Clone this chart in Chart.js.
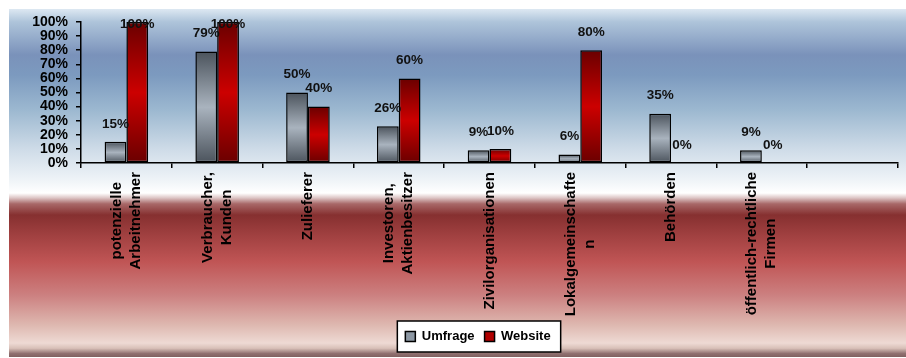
<!DOCTYPE html>
<html>
<head>
<meta charset="utf-8">
<script src="https://cdn.jsdelivr.net/npm/chart.js@4"></script>
<style>
  html, body { margin: 0; padding: 0; background: #fff; }
  #wrap { width: 906px; height: 358px; }
</style>
</head>
<body>
<div id="wrap"><canvas id="chart"></canvas></div>
<script>
// Stakeholder groups: survey answers vs. what the websites address.
const categories = [
  ['potenzielle', 'Arbeitnehmer'],
  ['Verbraucher,', 'Kunden'],
  ['Zulieferer'],
  ['Investoren,', 'Aktienbesitzer'],
  ['Zivilorganisationen'],
  ['Lokalgemeinschafte', 'n'],
  ['Behörden'],
  ['öffentlich-rechtliche', 'Firmen'],
  [''],
];
const umfrage = [15, 79, 50, 26, 9, 6, 35, 9];
const website = [100, 100, 40, 60, 10, 80, 0, 0];
const seriesNames = ['Umfrage', 'Website'];
const yTicks = { min: 0, max: 100, step: 10 };

const FONT = 'Arial, "Liberation Sans", sans-serif';
const GREY = ['#4b535c', '#a9b3be'];
const RED = ['#6a0000', '#cc0000'];

// vertical dark-light-dark gradient over each bar's own height
function barFill(stops) {
  return (c) => {
    if (c.type !== 'data' || c.raw == null) return stops[1];
    const y = c.chart.scales.y;
    if (!y) return stops[1];
    const top = y.getPixelForValue(c.raw), base = y.getPixelForValue(0);
    if (!isFinite(top) || Math.abs(base - top) < 1) return stops[1];
    const g = c.chart.ctx.createLinearGradient(0, top, 0, base);
    g.addColorStop(0, stops[0]);
    g.addColorStop(0.5, stops[1]);
    g.addColorStop(1, stops[0]);
    return g;
  };
}

// backdrop: blue band on top, red band below, plus the white legend frame
const backdrop = {
  id: 'backdrop',
  afterLayout(chart) {
    // legend sits a little right of the canvas centre
    if (chart.legend) chart.legend.left = 58;
  },
  beforeDraw(chart) {
    const { ctx } = chart;
    const y0 = 9, y1 = 357;
    const g = ctx.createLinearGradient(0, y0, 0, y1);
    const stops = [
      [0, '#dde8f2'], [0.037, '#aec4da'], [0.132, '#7a92ba'], [0.19, '#7c9abf'],
      [0.29, '#9cb8d0'], [0.405, '#cfdce8'], [0.49, '#eef3f7'], [0.529, '#ffffff'],
      [0.543, '#dcc4c4'], [0.56, '#a86868'], [0.592, '#863030'], [0.649, '#a04040'],
      [0.727, '#c05555'], [0.822, '#cc8080'], [0.908, '#deb8b0'], [0.96, '#eedad4'],
      [0.975, '#d8c0b8'], [0.99, '#907070'], [1, '#806060'],
    ];
    stops.forEach(([p, c]) => g.addColorStop(p, c));
    ctx.save();
    ctx.fillStyle = g;
    ctx.fillRect(9, y0, chart.width - 9, y1 - y0);

    const lg = chart.legend;
    if (lg && lg.legendHitBoxes && lg.legendHitBoxes.length) {
      const hb = lg.legendHitBoxes;
      const last = hb[hb.length - 1];
      const x0 = hb[0].left - 8, x1 = last.left + last.width + 10;
      ctx.fillStyle = '#fff';
      ctx.strokeStyle = '#000';
      ctx.lineWidth = 1.5;
      ctx.fillRect(x0, lg.top + 1, x1 - x0, lg.height - 2);
      ctx.strokeRect(x0, lg.top + 1, x1 - x0, lg.height - 2);
    }
    ctx.restore();
  },
};

// value labels above bars and centred, wrapped category labels under the axis
const labels = {
  id: 'labels',
  afterDatasetsDraw(chart) {
    const { ctx } = chart;
    ctx.save();
    ctx.font = 'bold 13.5px ' + FONT;
    ctx.fillStyle = '#111';
    ctx.textAlign = 'center';
    ctx.textBaseline = 'middle';
    chart.data.datasets.forEach((ds, i) => {
      chart.getDatasetMeta(i).data.forEach((el, j) => {
        const v = ds.data[j];
        if (v == null) return;
        ctx.fillText(v + '%', el.x, Math.max(el.y - 18, 24));
      });
    });
    ctx.restore();
  },
  afterDraw(chart) {
    const { ctx } = chart;
    const x = chart.scales.x;
    const top = x.top + 9, lh = 19;
    ctx.save();
    ctx.font = 'bold 15px ' + FONT;
    ctx.fillStyle = '#000';
    ctx.textAlign = 'center';
    ctx.textBaseline = 'middle';
    categories.forEach((lines, i) => {
      const w = Math.max(...lines.map((l) => ctx.measureText(l).width));
      ctx.save();
      ctx.translate(x.getPixelForValue(i), top);
      ctx.rotate(-Math.PI / 2);
      lines.forEach((l, k) => {
        ctx.fillText(l, -w / 2, (k - (lines.length - 1) / 2) * lh);
      });
      ctx.restore();
    });
    ctx.restore();
  },
};

new Chart(document.getElementById('chart'), {
  type: 'bar',
  data: {
    labels: categories,
    datasets: [
      { label: seriesNames[0], data: umfrage, backgroundColor: barFill(GREY) },
      { label: seriesNames[1], data: website, backgroundColor: barFill(RED) },
    ],
  },
  options: {
    responsive: true,
    maintainAspectRatio: false,
    animation: false,
    devicePixelRatio: 1,
    layout: { padding: { top: 22, left: 9, right: 8, bottom: 5 } },
    datasets: {
      bar: {
        borderColor: '#000', borderWidth: 1.5, borderSkipped: false,
        categoryPercentage: 0.48, barPercentage: 1,
      },
    },
    plugins: {
      tooltip: { enabled: false },
      legend: {
        position: 'bottom',
        labels: {
          color: '#000', boxWidth: 10, boxHeight: 10, padding: 10,
          font: { family: FONT, size: 13, weight: 'bold' },
          generateLabels: (chart) => seriesNames.map((name, i) => ({
            text: name, datasetIndex: i,
            fillStyle: i === 0 ? '#8c97a3' : '#b00000',
            strokeStyle: '#000', lineWidth: 1.5, hidden: false,
          })),
        },
      },
    },
    scales: {
      x: {
        offset: true,
        afterFit: (s) => { s.height = 157; },
        grid: { offset: true, drawOnChartArea: false, drawTicks: true, tickLength: 5,
          color: '#000', lineWidth: 1.5 },
        border: { display: true, color: '#000', width: 1.5 },
        ticks: { display: false },
      },
      y: {
        min: yTicks.min, max: yTicks.max,
        afterFit: (s) => { s.width = 72; },
        grid: { drawOnChartArea: false, drawTicks: true, tickLength: 5,
          color: '#000', lineWidth: 1.5 },
        border: { display: true, color: '#000', width: 1.5 },
        ticks: {
          stepSize: yTicks.step, autoSkip: false, padding: 8, color: '#000',
          font: { family: FONT, size: 14, weight: 'bold' },
          callback: (v) => v + '%',
        },
      },
    },
  },
  plugins: [backdrop, labels],
});
</script>
</body>
</html>
